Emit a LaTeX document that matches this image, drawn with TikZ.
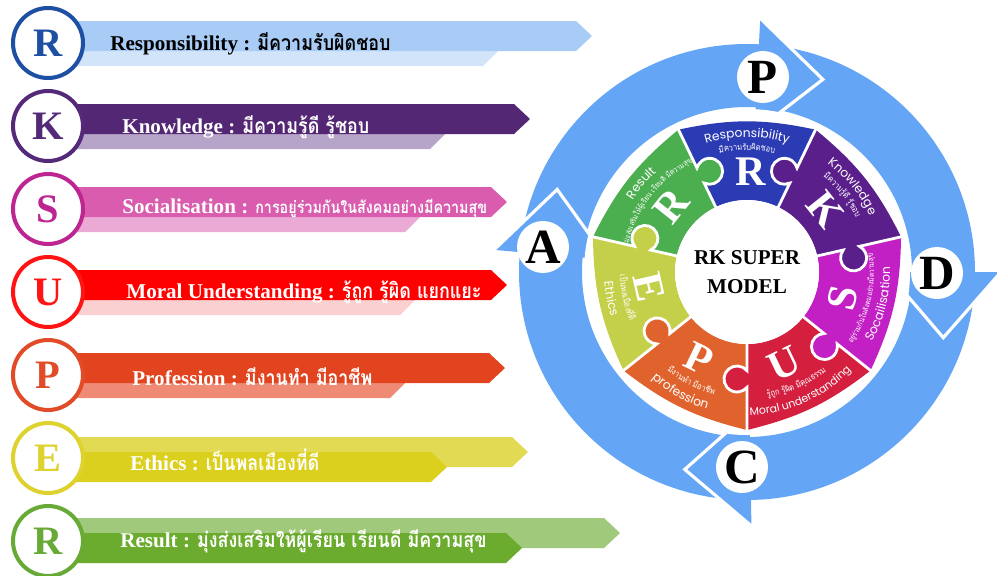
\documentclass[tikz,border=0pt]{standalone}
\usepackage{fontspec}
\setmainfont{Liberation Serif}
\newfontfamily\thaifont[Script=Thai,FakeStretch=0.85]{Loma}
\newfontfamily\geofont{Poppins}
\usepackage{tikz}
\usetikzlibrary{decorations.text}

% puzzle and cycle colours
\definecolor{ringblue}{RGB}{100,166,245}
\definecolor{pzresp}{RGB}{43,59,179}
\definecolor{pzknow}{RGB}{91,31,139}
\definecolor{pzsoc}{RGB}{194,31,196}
\definecolor{pzmoral}{RGB}{212,31,63}
\definecolor{pzprof}{RGB}{224,99,45}
\definecolor{pzeth}{RGB}{197,208,74}
\definecolor{pzres}{RGB}{75,174,79}
% left rows
\definecolor{rring}{RGB}{29,79,163}
\definecolor{rbar}{RGB}{169,204,246}
\definecolor{rpale}{RGB}{210,228,250}
\definecolor{kring}{RGB}{84,42,120}
\definecolor{kbar}{RGB}{83,39,115}
\definecolor{kpale}{RGB}{182,164,201}
\definecolor{sring}{RGB}{189,37,144}
\definecolor{sbar}{RGB}{217,92,175}
\definecolor{spale}{RGB}{235,170,214}
\definecolor{uring}{RGB}{255,20,20}
\definecolor{ubar}{RGB}{255,0,0}
\definecolor{upale}{RGB}{251,208,208}
\definecolor{pring}{RGB}{225,75,39}
\definecolor{pbar}{RGB}{227,68,32}
\definecolor{ppale}{RGB}{239,139,117}
\definecolor{ering}{RGB}{222,210,46}
\definecolor{elight}{RGB}{226,218,82}
\definecolor{edark}{RGB}{220,208,31}
\definecolor{gring}{RGB}{103,170,54}
\definecolor{glight}{RGB}{161,201,123}
\definecolor{gdark}{RGB}{107,171,45}

% label fonts for the puzzle
\newcommand{\enfmt}{\geofont\fontsize{7}{8}\selectfont\color{white}}
\newcommand{\enfmtsm}{\geofont\fontsize{6.2}{7}\selectfont\color{white}}
\newcommand{\thfmt}{\thaifont\fontsize{5}{6}\selectfont\color{white}}
\newcommand{\thfmtsm}{\thaifont\fontsize{4.4}{5}\selectfont\color{white}}

% text on an arc: angle, radius, half span, text
\newcommand{\cwlabel}[4]{%
  \path[decorate, decoration={text along path, text align=center, text={#4}}]
    ({#1+#3}:#2) arc[start angle={#1+#3}, end angle={#1-#3}, radius=#2];}
\newcommand{\ccwlabel}[4]{%
  \path[decorate, decoration={text along path, text align=center, text={#4}}]
    ({#1-#3}:#2) arc[start angle={#1-#3}, end angle={#1+#3}, radius=#2];}

\begin{document}
\begin{tikzpicture}[x=0.02cm, y=0.02cm,
  letterring/.style={circle, draw=#1, text=#1, line width=2.3pt, fill=white,
    minimum size=1.4cm, inner sep=0pt, font=\bfseries\fontsize{23}{23}\selectfont},
  bartext/.style={anchor=west, inner sep=0pt, font=\bfseries\fontsize{12}{14}\selectfont},
  pdcaball/.style={circle, fill=white, minimum size=1.04cm, inner sep=0pt,
    font=\bfseries\fontsize{28}{28}\selectfont},
  pzletter/.style={text=white, inner sep=0pt, font=\bfseries\fontsize{24}{24}\selectfont},
  puzgap/.style={white, line width=1.6pt},
  headgap/.style={white, line width=1.8pt, line join=miter}]

\useasboundingbox (0,0) rectangle (997,-575);
\fill[white] (0,0) rectangle (997,-575);

% ===========================
% LEFT: the seven letters
% ===========================

% R - Responsibility
\fill[rpale] (60,-51) -- (498,-51) -- (483,-66) -- (60,-66) -- cycle;
\fill[rbar] (60,-21) -- (576,-21) -- (592,-36) -- (576,-51) -- (60,-51) -- cycle;
\node[letterring=rring] (ringR) at (48,-43) {R};
\node[bartext, text=black] (textR) at (110,-44) {Responsibility : {\thaifont มีความรับผิดชอบ}};

% K - Knowledge
\fill[kpale] (60,-134) -- (445,-134) -- (430,-149) -- (60,-149) -- cycle;
\fill[kbar] (60,-104) -- (514,-104) -- (530,-119) -- (514,-134) -- (60,-134) -- cycle;
\node[letterring=kring] (ringK) at (48,-126) {K};
\node[bartext, text=white] (textK) at (122,-127) {Knowledge : {\thaifont มีความรู้ดี รู้ชอบ}};

% S - Socialisation
\fill[spale] (60,-217) -- (420,-217) -- (405,-232) -- (60,-232) -- cycle;
\fill[sbar] (60,-187) -- (491,-187) -- (507,-202) -- (491,-217) -- (60,-217) -- cycle;
\node[letterring=sring] (ringS) at (48,-209) {S};
\node[bartext, text=white] (textS) at (122,-208) {Socialisation : {\thaifont\fontsize{9.6}{13}\selectfont การอยู่ร่วมกันในสังคมอย่างมีความสุข}};

% U - Moral Understanding
\fill[upale] (60,-300) -- (415,-300) -- (400,-315) -- (60,-315) -- cycle;
\fill[ubar] (60,-270) -- (491,-270) -- (507,-285) -- (491,-300) -- (60,-300) -- cycle;
\node[letterring=uring] (ringU) at (48,-292) {U};
\node[bartext, text=white] (textU) at (126,-292) {Moral Understanding : {\thaifont รู้ถูก รู้ผิด แยกแยะ}};

% P - Profession
\fill[ppale] (60,-383) -- (405,-383) -- (390,-398) -- (60,-398) -- cycle;
\fill[pbar] (60,-353) -- (489,-353) -- (505,-368) -- (489,-383) -- (60,-383) -- cycle;
\node[letterring=pring] (ringP) at (48,-375) {P};
\node[bartext, text=white] (textP) at (132,-377) {Profession : {\thaifont มีงานทำ มีอาชีพ}};

% E - Ethics
\fill[elight] (60,-437) -- (512,-437) -- (528,-452) -- (512,-467) -- (60,-467) -- cycle;
\fill[edark] (60,-452) -- (431,-452) -- (447,-467) -- (431,-482) -- (60,-482) -- cycle;
\node[letterring=ering] (ringE) at (48,-458) {E};
\node[bartext, text=white] (textE) at (130,-460) {Ethics : {\thaifont เป็นพลเมืองที่ดี}};

% R - Result
\fill[glight] (60,-518) -- (604,-518) -- (620,-533) -- (604,-548) -- (60,-548) -- cycle;
\fill[gdark] (60,-533) -- (506,-533) -- (522,-548) -- (506,-563) -- (60,-563) -- cycle;
\node[letterring=gring] (ringG) at (48,-541) {R};
\node[bartext, text=white] (textG) at (120,-541) {Result : {\thaifont มุ่งส่งเสริมให้ผู้เรียน เรียนดี มีความสุข}};

% ===========================
% RIGHT: PDCA ring and puzzle
% ===========================
\begin{scope}[shift={(747,-272)}]

    % Blue ring with four arrow heads
    \fill[ringblue, even odd rule] (0,0) circle[radius=228] (0,0) circle[radius=165];
    \foreach \b in {87,0,-89,175}{
        \fill[ringblue] (\b:254) -- ({\b-18.5}:207) -- (\b:140) -- cycle;
        \draw[headgap] (\b:254) -- ({\b-18.5}:207) -- (\b:140);
    }
    \fill[white] (0,0) circle[radius=163];

    % Seven puzzle pieces
    \foreach \a/\c in {90/pzresp, 38.57/pzknow, -12.86/pzsoc, -64.29/pzmoral,
                       -115.71/pzprof, -167.14/pzeth, 141.43/pzres}
        \fill[\c] ({\a-25.71}:72) -- ({\a-25.71}:158) to[bend right=12] ({\a+25.71}:158)
            -- ({\a+25.71}:72) arc[start angle={\a+25.71}, end angle={\a-25.71}, radius=72] -- cycle;

    % Knobs and the white joints
    \foreach \b/\oy/\sa/\ea/\c in {115.71/-10/129.72/410.28/pzres, 64.29/10/-129.72/-410.28/pzknow,
                                   12.86/-10/129.72/410.28/pzknow, -38.57/-10/129.72/410.28/pzsoc,
                                   -90/-10/129.72/410.28/pzmoral, -141.43/-10/129.72/410.28/pzprof,
                                   167.14/-10/129.72/410.28/pzeth}{
        \fill[\c, rotate=\b] (107,\oy) circle[radius=13];
        \draw[puzgap, rotate=\b] (70,0) -- (98.69,0)
            arc[start angle=\sa, end angle=\ea, radius=13] -- (162,0);
    }
    \fill[white] (0,0) circle[radius=72];

    % Centre
    \node[align=center, font=\bfseries\fontsize{12}{16.4}\selectfont] (core) at (0,0) {RK SUPER\\MODEL};

    % Big letters
    \node[pzletter] (pzR) at (88:100) {R};
    \node[pzletter, rotate=-51.43] (pzK) at (38.57:100) {K};
    \node[pzletter, rotate=77.14] (pzS) at (-15:99) {S};
    \node[pzletter, rotate=25.71] (pzU) at (-68:99) {U};
    \node[pzletter, rotate=-25.71] (pzP) at (-119:99) {P};
    \node[pzletter, rotate=-77.14] (pzE) at (-171:99) {E};
    \node[pzletter, rotate=51.43] (pzG) at (139:100) {R};

    % Piece labels
    \cwlabel{90}{135}{30}{|\enfmt|Responsibility}
    \cwlabel{90}{122}{30}{|\thfmt|{มี}{ความ}{รับ}{ผิด}{ชอบ}}
    \cwlabel{39}{135}{30}{|\enfmt|Knowledge}
    \cwlabel{39}{122}{30}{|\thfmt|{มี}{ความ}{รู้}{ดี} {รู้}{ชอบ}}
    \cwlabel{140}{135}{30}{|\enfmt|Result}
    \cwlabel{141.43}{122}{30}{|\thfmtsm|{มุ่ง}{ส่ง}{เสริม}{ให้}{ผู้}{เรียน} {เรียน}{ดี} {มี}{ความ}{สุข}}
    \ccwlabel{-13.5}{143}{30}{|\enfmt|Socailisation}
    \ccwlabel{-13}{127}{30}{|\thfmtsm|{อยู่}{ร่วม}{กัน}{ใน}{สังคม}{อย่าง}{มี}{ความ}{สุข}}
    \ccwlabel{-66}{143}{30}{|\enfmtsm|Moral understanding}
    \ccwlabel{-66}{127}{30}{|\thfmt|{รู้}{ถูก} {รู้}{ผิด} {มี}{คุณ}{ธรรม}}
    \ccwlabel{-119}{143}{30}{|\enfmt|profession}
    \ccwlabel{-117}{127}{30}{|\thfmt|{มี}{งาน}{ทำ} {มี}{อา}{ชีพ}}
    \ccwlabel{-169}{143}{30}{|\enfmt|Ethics}
    \ccwlabel{-168}{127}{30}{|\thfmt|{เป็น}{พล}{เมือง}{ที่}{ดี}}

\end{scope}

% PDCA letters
\node[pdcaball] (pdcaP) at (763,-77) {P};
\node[pdcaball] (pdcaD) at (937,-273) {D};
\node[pdcaball] (pdcaC) at (742,-467) {C};
\node[pdcaball] (pdcaA) at (543,-247) {A};

\end{tikzpicture}
\end{document}
